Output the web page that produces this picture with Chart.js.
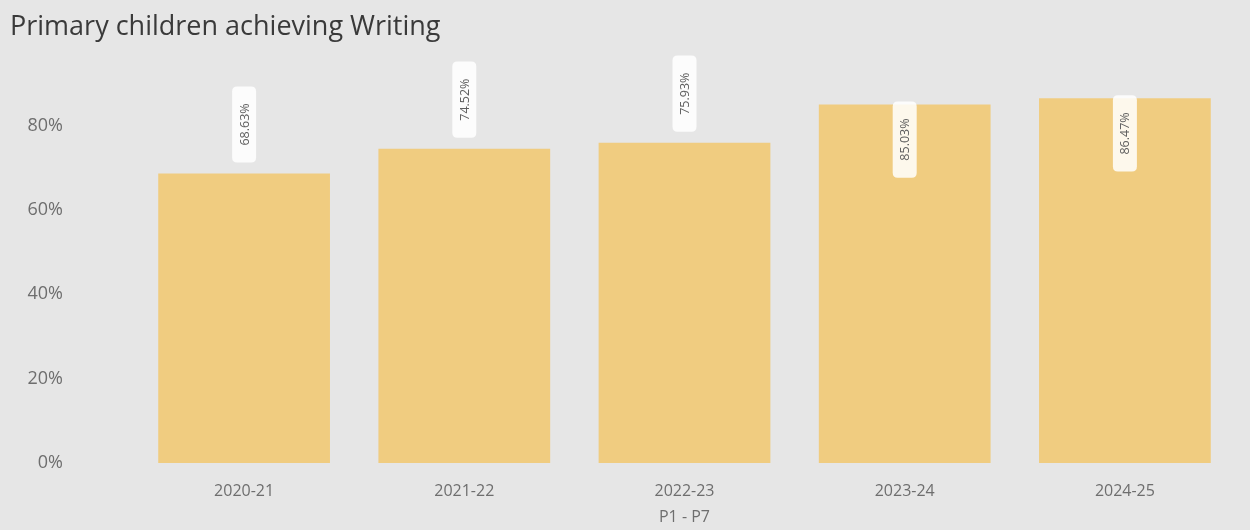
<!DOCTYPE html>
<html>
<head>
<meta charset="utf-8">
<script src="https://cdn.jsdelivr.net/npm/chart.js@4"></script>
<style>
  html, body { margin: 0; padding: 0; background: #e6e6e6; }
  #wrap { width: 1250px; height: 530px; }
</style>
</head>
<body>
<div id="wrap"><canvas id="c" width="1250" height="530"></canvas></div>
<script>
// School years shown along the bottom
const years = ['2020-21', '2021-22', '2022-23', '2023-24', '2024-25'];
// Share of P1 - P7 pupils achieving the expected Writing level (%)
const writingPct = [68.63, 74.52, 75.93, 85.03, 86.47];
// Percentage ticks on the value axis
const yTicks = [0, 20, 40, 60, 80];

const BG = '#e6e6e6';
const BAR = '#f0cc80';
const TXT = '#6e6e6e';
const FONT = '"Open Sans", "DejaVu Sans", sans-serif';

// Rotated value tags in small white boxes, placed above the bar,
// or tucked inside its top edge when there is no headroom left.
const valueTags = {
  id: 'valueTags',
  afterDatasetsDraw(chart) {
    const ctx = chart.ctx;
    const meta = chart.getDatasetMeta(0);
    ctx.save();
    ctx.font = '12.5px ' + FONT;
    meta.data.forEach((bar, i) => {
      const text = writingPct[i].toFixed(2) + '%';
      const tw = ctx.measureText(text).width;
      const boxH = tw + 34;   // along the bar
      const boxW = 24;        // across the bar
      const gap = 11;
      let bottom = bar.y - gap;
      if (bottom - boxH < chart.chartArea.top - 15) {
        bottom = bar.y + boxH - 3;
      }
      const cx = bar.x;
      ctx.fillStyle = 'rgba(255,255,255,0.85)';
      const r = 5;
      const x0 = cx - boxW / 2, y0 = bottom - boxH;
      ctx.beginPath();
      ctx.moveTo(x0 + r, y0);
      ctx.lineTo(x0 + boxW - r, y0);
      ctx.quadraticCurveTo(x0 + boxW, y0, x0 + boxW, y0 + r);
      ctx.lineTo(x0 + boxW, y0 + boxH - r);
      ctx.quadraticCurveTo(x0 + boxW, y0 + boxH, x0 + boxW - r, y0 + boxH);
      ctx.lineTo(x0 + r, y0 + boxH);
      ctx.quadraticCurveTo(x0, y0 + boxH, x0, y0 + boxH - r);
      ctx.lineTo(x0, y0 + r);
      ctx.quadraticCurveTo(x0, y0, x0 + r, y0);
      ctx.fill();
      ctx.translate(cx, bottom - boxH / 2);
      ctx.rotate(-Math.PI / 2);
      ctx.fillStyle = '#5e5e5e';
      ctx.textAlign = 'center';
      ctx.textBaseline = 'middle';
      ctx.fillText(text, 0, 1);
      ctx.setTransform(1, 0, 0, 1, 0, 0);
    });
    ctx.restore();
  }
};

const canvasBg = {
  id: 'canvasBg',
  beforeDraw(chart) {
    const ctx = chart.ctx;
    ctx.save();
    ctx.fillStyle = BG;
    ctx.fillRect(0, 0, chart.width, chart.height);
    ctx.restore();
  }
};

new Chart(document.getElementById('c'), {
  type: 'bar',
  data: {
    labels: years,
    datasets: [{
      data: writingPct,
      backgroundColor: BAR,
      borderWidth: 0,
      barPercentage: 0.78,
      categoryPercentage: 1.0
    }]
  },
  options: {
    responsive: false,
    animation: false,
    layout: { padding: { left: 10, right: 15, top: 0, bottom: 0 } },
    plugins: {
      legend: { display: false },
      tooltip: { enabled: false },
      title: {
        display: true,
        text: 'Primary children achieving Writing',
        align: 'start',
        color: '#3a3a3a',
        font: { family: FONT, size: 27, weight: 'normal' },
        padding: { top: 11, bottom: 19 }
      }
    },
    scales: {
      x: {
        grid: { display: false },
        border: { display: false },
        afterFit(scale) { scale.height = 67; },
        ticks: {
          color: TXT,
          font: { family: FONT, size: 16 },
          padding: 11
        },
        title: {
          display: true,
          text: 'P1 - P7',
          color: TXT,
          font: { family: FONT, size: 16 },
          padding: { top: 0, bottom: 3 }
        }
      },
      y: {
        min: 0,
        max: 95,
        grid: { display: false },
        border: { display: false },
        afterBuildTicks(scale) {
          scale.ticks = yTicks.map(v => ({ value: v }));
        },
        afterFit(scale) {
          // the wide label gap should not squeeze the plot vertically
          scale.width = 124;
          scale.paddingTop = 0;
          scale.paddingBottom = 0;
        },
        ticks: {
          color: TXT,
          font: { family: FONT, size: 18 },
          padding: 63,
          callback: v => v + '%'
        }
      }
    }
  },
  plugins: [canvasBg, valueTags]
});
</script>
</body>
</html>
